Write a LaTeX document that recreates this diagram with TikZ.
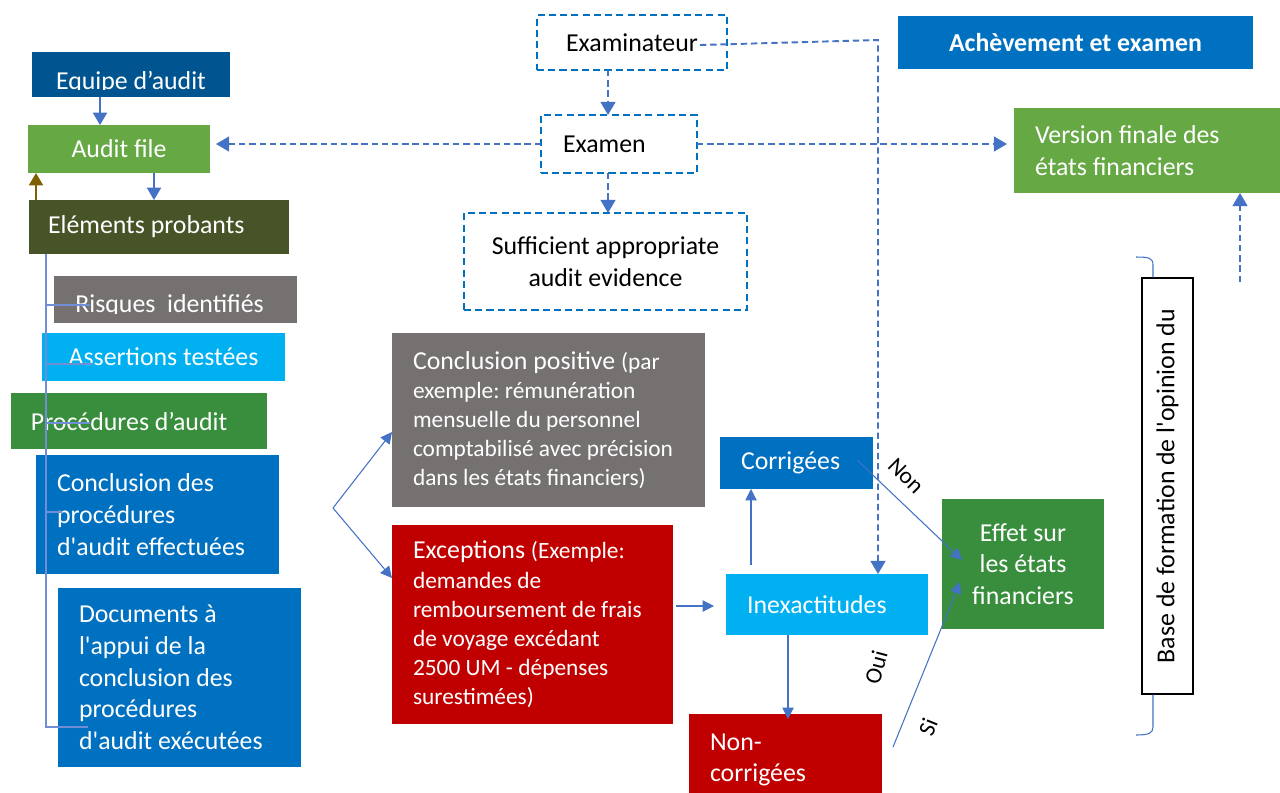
\documentclass[tikz,border=0pt]{standalone}
\usepackage{fontspec}
\setmainfont{Carlito}
\usetikzlibrary{arrows.meta}
\frenchspacing

\definecolor{cTeam}{HTML}{005590}
\definecolor{cFile}{HTML}{66A844}
\definecolor{cOlive}{HTML}{475427}
\definecolor{cStone}{HTML}{767171}
\definecolor{cSky}{HTML}{00B0F0}
\definecolor{cLeaf}{HTML}{388E3C}
\definecolor{cRoyal}{HTML}{0070C0}
\definecolor{cCrimson}{HTML}{C00000}
\definecolor{cLink}{HTML}{4472C4}
\definecolor{cTrunk}{HTML}{6F8ED6}
\definecolor{cBronze}{HTML}{7F6000}

\newcommand\bodyfont{\fontsize{14.7}{18}\selectfont}
\newcommand\notefont{\fontsize{13.3}{16.6}\selectfont}
\newcommand\tightfont{\fontsize{14.7}{16.6}\selectfont}
\newcommand\sq{\textquotesingle}

\tikzset{
  panel/.style={rectangle, inner sep=0pt, outer sep=0pt, anchor=north west,
    text=white, font=\bodyfont},
  boxsize/.style 2 args={minimum width=#1*0.02cm, minimum height=#2*0.02cm},
  lefttext/.style={align=flush left, text width=#1*0.02cm},
  centertext/.style={align=center},
  dashbox/.style={panel, draw=cRoyal, line width=1.1pt,
    dash pattern=on 4pt off 2.4pt, fill=white, text=black},
  flow/.style={draw=cLink, line width=0.6pt,
    -{Triangle[length=6.5pt,width=6.5pt]}},
  flowthick/.style={line width=0.9pt, -{Triangle[length=7pt,width=8pt]}},
  review/.style={draw=cLink, line width=1.1pt, dash pattern=on 3.6pt off 2.2pt,
    -{Triangle[length=7.5pt,width=8.5pt]}},
  trunk/.style={draw=cTrunk, line width=0.7pt},
  brace/.style={draw=cLink, line width=0.6pt},
  tag/.style={inner sep=0pt, font=\notefont, text=black},
}

\begin{document}
\begin{tikzpicture}[x=0.02cm, y=-0.02cm]
\clip (0,0) rectangle (1280,792);
\fill[white] (0,0) rectangle (1280,792);

% ---------- left column: audit file and evidence ----------
\node[panel, fill=cTeam, boxsize={198}{45}] (equipe) at (32,52) {};
\begin{scope}
  \clip (32,52) rectangle (230,89.5);
  \node[anchor=base, inner sep=0pt, font=\bodyfont, text=white] (equipetext)
    at (131,89) {Equipe d’audit};
\end{scope}

\node[panel, fill=cFile, boxsize={182}{48}, centertext] (auditfile) at (28,125) {Audit file};
\node[panel, fill=cOlive, boxsize={260}{54}, lefttext=222] (elements) at (29,200) {Eléments probants};

\node[panel, fill=cStone, boxsize={243}{47}] (risques) at (54,276) {};
\begin{scope}
  \clip (54,276) rectangle (297,313);
  \node[anchor=base west, inner sep=0pt, font=\bodyfont, text=white] (risquestext)
    at (75,312.5) {Risques\ \ identifiés};
\end{scope}

\node[panel, fill=cSky, boxsize={243}{48}, centertext] (assertions) at (42,333) {Assertions testées};
\node[panel, fill=cLeaf, boxsize={256}{56}, lefttext=216] (procedures) at (11,393) {Procédures d’audit};
\node[panel, fill=cRoyal, boxsize={243}{119}, lefttext=201] (conclusion) at (36,455)
  {Conclusion des\\procédures\\d\sq audit effectuées};
\node[panel, fill=cRoyal, boxsize={243}{179}, lefttext=201] (documents) at (58,588)
  {Documents à\\l\sq appui de la\\conclusion des\\procédures\\d\sq audit exécutées};

% ---------- review chain ----------
\node[dashbox, boxsize={190}{55}, centertext] (examinateur) at (537,15) {Examinateur};
\node[dashbox, boxsize={156}{58}, lefttext=112] (examen) at (541,115) {Examen};
\node[dashbox, boxsize={283}{97}, centertext] (evidence) at (464,213)
  {Sufficient appropriate\\audit evidence};

\node[panel, fill=cRoyal, boxsize={355}{53}, font=\bfseries\bodyfont] (achevement) at (898,16)
  {Achèvement et examen};
\node[panel, fill=cFile, boxsize={280}{85}, lefttext=238] (version) at (1014,108)
  {Version finale des\\états financiers};

% ---------- outcomes ----------
\node[panel, fill=cStone, boxsize={313}{174}, lefttext=271, font=\tightfont] (positive) at (392,333)
  {\mbox{Conclusion positive {\notefont(par}}\\
   \mbox{\notefont exemple: rémunération}\\
   \mbox{\notefont mensuelle du personnel}\\
   \mbox{\notefont comptabilisé avec précision}\\
   \mbox{\notefont dans les états financiers)}};
\node[panel, fill=cCrimson, boxsize={281}{199}, lefttext=239, font=\tightfont] (exceptions) at (392,525)
  {\mbox{Exceptions {\notefont(Exemple:}}\\
   \mbox{\notefont demandes de}\\
   \mbox{\notefont remboursement de frais}\\
   \mbox{\notefont de voyage excédant}\\
   \mbox{\notefont 2500 UM - dépenses}\\
   \mbox{\notefont surestimées)}};

\node[panel, fill=cRoyal, boxsize={153}{52}, lefttext=111] (corrigees) at (720,437) {Corrigées};
\node[panel, fill=cSky, boxsize={202}{61}, lefttext=160] (inex) at (726,574) {Inexactitudes};
\node[panel, fill=cCrimson, boxsize={193}{92}, lefttext=151] (noncorr) at (689,714) {Non-\\corrigées};
\node[panel, fill=cLeaf, boxsize={162}{130}, centertext] (effet) at (942,499)
  {Effet sur\\les états\\financiers};

\node[draw=black, line width=0.6pt, fill=white, inner sep=0pt, rotate=90,
  minimum width=416*0.02cm, minimum height=51*0.02cm, font=\bodyfont, text=black]
  (base) at (1167.5,486) {Base de formation de l\sq opinion du};

% ---------- helper coordinates ----------
\coordinate (xa) at (100,0);
\coordinate (xb) at (154,0);
\coordinate (xc) at (36,0);
\coordinate (xt) at (46,0);
\coordinate (rJ) at (90,305);
\coordinate (aJ) at (92,364);
\coordinate (pJ) at (90,423);
\coordinate (cJ) at (62,512);
\coordinate (dJ) at (88,727);
\coordinate (xe) at (608,0);
\coordinate (exstart) at (700,45);
\coordinate (xbend) at (878,40);
\coordinate (vstart) at (1240,282);
\coordinate (fork) at (333,508);
\coordinate (fu) at (0,432);
\coordinate (fd) at (0,578);
\coordinate (ey) at (0,606);
\coordinate (k0) at (751,565);
\coordinate (xm) at (788,0);
\coordinate (nstart) at (857,460);
\coordinate (nend) at (962,560);
\coordinate (sstart) at (893,747);
\coordinate (send) at (960,582);
\coordinate (bx) at (1153,0);
\coordinate (btop) at (1136,257);
\coordinate (bbot) at (1136,735);

% ---------- left column connectors ----------
\draw[flow, flowthick] (equipe.south -| xa) -- (auditfile.north -| xa);
\draw[flow, flowthick] (auditfile.south -| xb) -- (elements.north -| xb);
\draw[flow, flowthick, draw=cBronze, -{Triangle[length=7pt,width=8pt,fill=cBronze]}]
  (elements.north -| xc) -- (auditfile.south -| xc);
\draw[trunk] (elements.south -| xt) -- (xt |- dJ) -- (dJ);
\draw[trunk] (xt |- rJ) -- (rJ);
\draw[trunk] (xt |- aJ) -- (aJ);
\draw[trunk] (xt |- pJ) -- (pJ);
\draw[trunk] (xt |- cJ) -- (cJ);

% ---------- review connectors ----------
\draw[review] (examinateur.south -| xe) -- (examen.north -| xe);
\draw[review] (examen.south -| xe) -- (evidence.north -| xe);
\draw[review, shorten >=0.12cm] (examen.west) -- (auditfile.east |- examen.west);
\draw[review, shorten >=0.14cm] (examen.east) -- (version.west |- examen.east);
\draw[review] (exstart) -- (xbend) -- (inex.north -| xbend);
\draw[review] (vstart) -- (version.south -| vstart);

% ---------- outcome connectors ----------
\draw[flow] (fork) -- (positive.west |- fu);
\draw[flow] (fork) -- (exceptions.west |- fd);
\draw[flow, shorten <=0.06cm, shorten >=0.24cm] (exceptions.east |- ey) -- (inex.west |- ey);
\draw[flow] (k0) -- (corrigees.south -| k0);
\draw[flow] (inex.south -| xm) -- ([yshift=-0.1cm]noncorr.north -| xm);
\draw[flow] (nstart) -- (nend);
\draw[flow] (sstart) -- (send);

\node[tag, rotate=-45] (non) at (906,476) {Non};
\node[tag, rotate=75] (oui) at (876,667) {Oui};
\node[tag, rotate=68] (si) at (928,727) {Si};

% ---------- bracket around the opinion box ----------
\draw[brace] (btop) .. controls (1149,257) and (1153,258) .. (1153,265) -- (base.east -| bx);
\draw[brace] (base.west -| bx) -- (1153,727) .. controls (1153,733) and (1149,735) .. (bbot);

\end{tikzpicture}
\end{document}
